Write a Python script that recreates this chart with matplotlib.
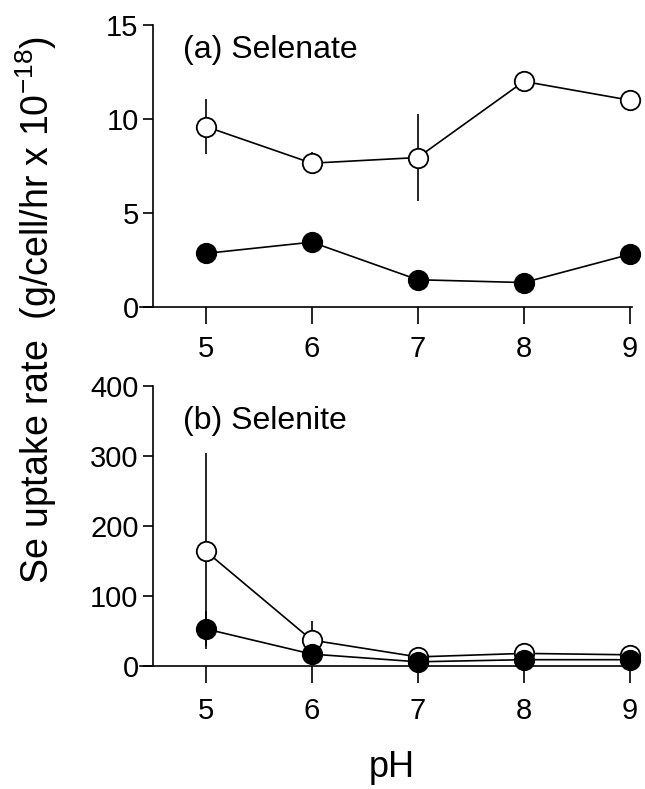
import matplotlib.pyplot as plt

plt.rcParams['font.family'] = ['Liberation Sans', 'DejaVu Sans']
plt.rcParams['font.size'] = 21
plt.rcParams['mathtext.fontset'] = 'custom'
plt.rcParams['mathtext.rm'] = 'Liberation Sans'
plt.rcParams['mathtext.it'] = 'Liberation Sans'
plt.rcParams['axes.unicode_minus'] = False

ph = [5, 6, 7, 8, 9]

# (a) selenate
a_open = [9.6, 7.65, 7.95, 12.0, 11.0]
a_open_err = [1.45, 0.6, 2.3, 0, 0]
a_fill = [2.85, 3.45, 1.45, 1.3, 2.8]

# (b) selenite
b_open = [164, 37, 13, 18, 16]
b_open_err = [140, 27, 0, 0, 0]
b_fill = [53, 17, 6, 9, 9]
b_fill_err = [25, 0, 0, 0, 0]

W, H = 645, 789
fig = plt.figure(figsize=(W / 100, H / 100), dpi=100)


def box(x0, y0, x1, y1):
    return [x0 / W, 1 - y1 / H, (x1 - x0) / W, (y1 - y0) / H]


ax1 = fig.add_axes(box(140, 25, 632, 307))
ax2 = fig.add_axes(box(140, 386, 632, 666))

for ax in (ax1, ax2):
    for s in ('top', 'right'):
        ax.spines[s].set_visible(False)
    ax.spines['left'].set_position(('outward', -9))
    ax.spines['left'].set_linewidth(1.2)
    ax.spines['bottom'].set_linewidth(1.2)
    ax.set_xlim(4.38, 9.02)
    ax.set_xticks(ph)
    ax.tick_params(axis='x', direction='out', length=12, width=1.2, pad=8)
    ax.tick_params(axis='y', direction='out', length=7, width=1.2, pad=3)
ax2.tick_params(axis='x', pad=10)

mk = dict(marker='o', markersize=14, color='black', lw=1.2, mew=1.3,
          ecolor='black', elinewidth=1.2, capsize=0, clip_on=False)

ax1.errorbar(ph, a_open, yerr=a_open_err, mfc='white', mec='black', zorder=3, **mk)
ax1.errorbar(ph, a_fill, mfc='black', mec='black', zorder=4, **mk)
ax1.set_ylim(0, 15)
ax1.set_yticks([0, 5, 10, 15])
ax1.text(183 / W, 1 - 50 / H, '(a) Selenate', transform=fig.transFigure,
         va='center', ha='left', fontsize=23)

ax2.errorbar(ph, b_open, yerr=b_open_err, mfc='white', mec='black', zorder=3, **mk)
ax2.errorbar(ph, b_fill, yerr=b_fill_err, mfc='black', mec='black', zorder=4, **mk)
ax2.set_ylim(0, 400)
ax2.set_yticks([0, 100, 200, 300, 400])
ax2.text(183 / W, 1 - 421 / H, '(b) Selenite', transform=fig.transFigure,
         va='center', ha='left', fontsize=23)

fig.text(36 / W, 1 - 310 / H, 'Se uptake rate  (g/cell/hr x 10$^{-18}$)',
         rotation=90, ha='center', va='center', fontsize=27)
fig.text(392 / W, 1 - 777 / H, 'pH', ha='center', va='baseline', fontsize=26)

plt.savefig('out.png', dpi=100)
